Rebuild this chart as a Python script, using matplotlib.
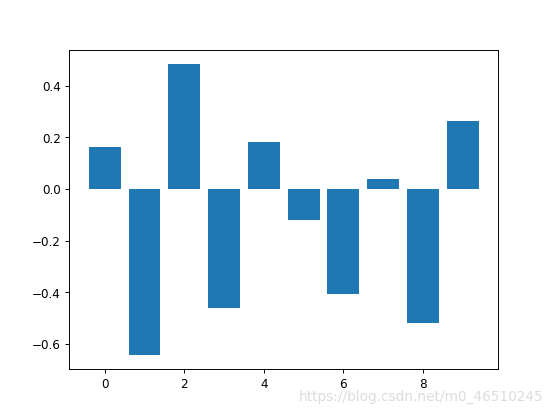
import numpy as np
import matplotlib.pyplot as plt

# bar heights
x = np.arange(10)
values = [0.163, -0.642, 0.484, -0.461, 0.184, -0.118, -0.405, 0.038, -0.517, 0.264]

fig, ax = plt.subplots(figsize=(6.4, 4.8), dpi=86.5)
ax.bar(x, values)

# blog watermark
fig.text(0.981, 0.045, 'https://blog.csdn.net/m0_46510245', ha='right', va='center',
         color='#dcdcdc', fontsize=11.4)

fig.savefig('out.png', dpi=86.5)
